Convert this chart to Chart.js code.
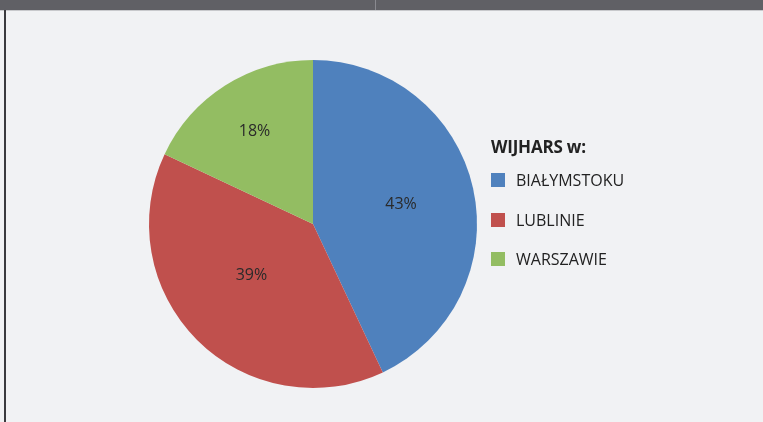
<!DOCTYPE html>
<html>
<head>
<meta charset="utf-8">
<script src="https://cdn.jsdelivr.net/npm/chart.js@4"></script>
<style>
  html, body { margin: 0; padding: 0; background: #f1f2f4; }
  body { width: 763px; height: 422px; position: relative; overflow: hidden; font-family: "Open Sans", sans-serif; }
  #topbar { position: absolute; left: 0; top: 0; width: 763px; height: 10px; background: #606065; border-bottom: 1px solid #c8c9cc; }
  #topbar .sep { position: absolute; left: 375px; top: 0; width: 1px; height: 10px; background: #8a8a90; }
  #leftline { position: absolute; left: 4px; top: 10px; width: 2px; height: 412px; background: #3a3a3e; }
  #chart { position: absolute; left: 0; top: 0; }
  #legend { position: absolute; left: 491px; top: 135px; color: #222; }
  #legend .title { font-weight: bold; font-size: 17px; height: 24px; line-height: 24px; margin-bottom: 10px; letter-spacing: -0.2px; }
  #legend .item { display: flex; align-items: center; height: 22px; margin-bottom: 17.5px; font-size: 16px; }
  #legend .box { width: 14px; height: 14px; margin-right: 11px; }
</style>
</head>
<body>
<canvas id="chart" width="763" height="422"></canvas>
<div id="topbar"><div class="sep"></div></div>
<div id="leftline"></div>
<div id="legend"></div>
<script>
const legendTitle = 'WIJHARS w:';
const categories = ['BIAŁYMSTOKU', 'LUBLINIE', 'WARSZAWIE'];
const shares = [43, 39, 18];
const colors = ['#4f81bd', '#c0504d', '#93bd62'];

// legend as html, same order as the slices
const legendEl = document.getElementById('legend');
let html = '<div class="title">' + legendTitle + '</div>';
categories.forEach((c, i) => {
  html += '<div class="item"><span class="box" style="background:' + colors[i] + '"></span>' + c + '</div>';
});
legendEl.innerHTML = html;

// percent labels inside the slices (radius fraction + small angle nudge per slice, like excel's best fit)
const labelRadius = [0.55, 0.49, 0.665];
const labelNudge = [0, 5, 0];
const sliceLabels = {
  id: 'sliceLabels',
  afterDatasetsDraw(chart) {
    const ctx = chart.ctx;
    const meta = chart.getDatasetMeta(0);
    ctx.save();
    ctx.font = '16px "Open Sans", sans-serif';
    ctx.fillStyle = '#2a2a2a';
    ctx.textAlign = 'center';
    ctx.textBaseline = 'middle';
    meta.data.forEach((arc, i) => {
      const p = arc.getProps(['x', 'y', 'startAngle', 'endAngle', 'outerRadius']);
      const mid = (p.startAngle + p.endAngle) / 2 + labelNudge[i] * Math.PI / 180;
      const r = p.outerRadius * labelRadius[i];
      ctx.fillText(shares[i] + '%', p.x + Math.cos(mid) * r, p.y + Math.sin(mid) * r);
    });
    ctx.restore();
  }
};

new Chart(document.getElementById('chart'), {
  type: 'pie',
  data: {
    labels: categories,
    datasets: [{
      data: shares,
      backgroundColor: colors,
      borderWidth: 0
    }]
  },
  options: {
    responsive: false,
    animation: false,
    layout: { padding: { top: 60, bottom: 34, left: 149, right: 286 } },
    plugins: {
      legend: { display: false },
      tooltip: { enabled: false }
    }
  },
  plugins: [sliceLabels]
});
</script>
</body>
</html>
